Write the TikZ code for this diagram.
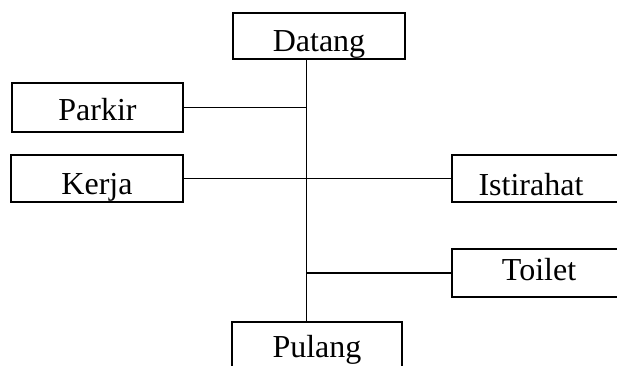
\documentclass[tikz,border=0pt]{standalone}
\usepackage{fontspec}
\setmainfont{Liberation Serif}
\begin{document}
\begin{tikzpicture}[x=1pt,y=-1pt,
  boxnode/.style={draw,line width=1.6pt,rectangle,inner sep=0pt,text depth=0pt,
    font=\fontsize{32}{38}\selectfont},
  conn/.style={line width=1.3pt},
  spine/.style={line width=1pt}]
\useasboundingbox (0,0) rectangle (617,365);
\node[boxnode,minimum width=172pt,minimum height=46pt,text height=30pt] (datang) at (319,36) {Datang};
\node[boxnode,minimum width=171pt,minimum height=49pt,text height=25pt] (parkir) at (97.5,107.5) {Parkir};
\node[boxnode,minimum width=172pt,minimum height=47pt,text height=31pt] (kerja) at (97,178.5) {Kerja};
\node[boxnode,minimum width=174pt,minimum height=47pt,text height=33pt] (istirahat) at (539,178.5) {Istirahat\kern16pt};
\node[boxnode,minimum width=174pt,minimum height=48pt,text height=14pt] (toilet) at (539,273) {Toilet};
\node[boxnode,minimum width=170pt,minimum height=46pt,text height=24pt] (pulang) at (317,345) {Pulang};
\coordinate (sp) at (306,0);
\draw[spine] (datang.south -| sp) -- (pulang.north -| sp);
\draw[conn] (parkir.east) -- (parkir.east -| sp);
\draw[conn] (kerja.east) -- (kerja.east -| sp);
\draw[conn] (istirahat.west) -- (istirahat.west -| sp);
\draw[conn] (toilet.west) -- (toilet.west -| sp);
\end{tikzpicture}
\end{document}
